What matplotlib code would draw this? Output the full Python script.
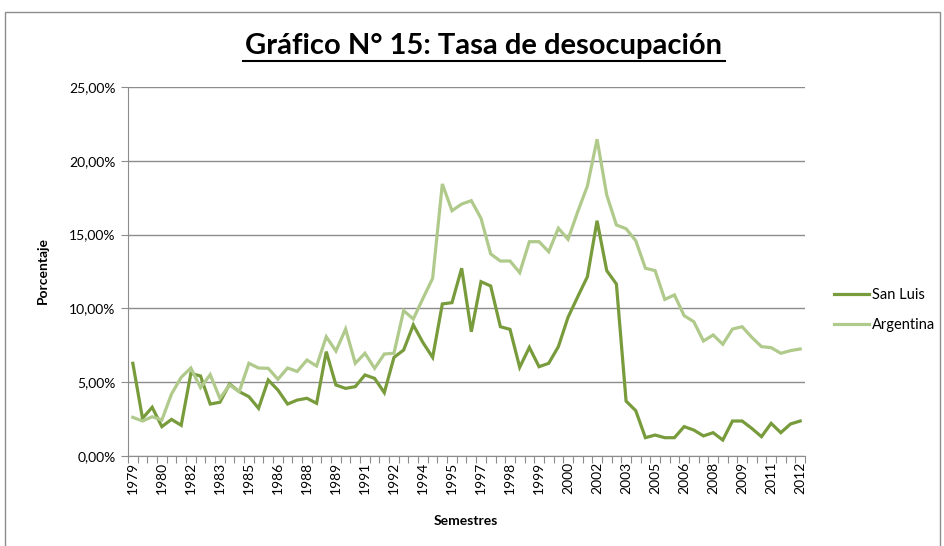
import numpy as np
from matplotlib import pyplot as plt
from matplotlib.patches import Rectangle
from matplotlib.ticker import FuncFormatter

# Data, one value per semester
san_luis = [6.28, 2.55, 3.30, 1.99, 2.48, 2.08, 5.60, 5.42, 3.52, 3.64,
            4.88, 4.36, 4.02, 3.23, 5.15, 4.47, 3.52, 3.79, 3.91, 3.57,
            7.07, 4.81, 4.58, 4.70, 5.49, 5.26, 4.29, 6.68, 7.18, 8.88,
            7.68, 6.68, 10.30, 10.39, 12.72, 8.42, 11.81, 11.52, 8.76, 8.58,
            6.01, 7.36, 6.05, 6.28, 7.41, 9.40, 10.79, 12.15, 15.94, 12.56,
            11.65, 3.72, 3.07, 1.24, 1.42, 1.24, 1.24, 1.99, 1.76, 1.36,
            1.58, 1.08, 2.37, 2.37, 1.87, 1.31, 2.21, 1.58, 2.17, 2.37]
argentina = [2.62, 2.37, 2.66, 2.44, 4.20, 5.33, 5.96, 4.63, 5.51, 3.91,
             4.81, 4.36, 6.28, 5.96, 5.94, 5.20, 5.96, 5.73, 6.50, 6.10,
             8.08, 7.11, 8.60, 6.28, 6.96, 5.94, 6.91, 6.96, 9.85, 9.28,
             10.68, 12.04, 18.43, 16.62, 17.07, 17.30, 16.10, 13.69, 13.21, 13.21,
             12.42, 14.52, 14.52, 13.84, 15.43, 14.68, 16.55, 18.29, 21.46, 17.68,
             15.65, 15.40, 14.59, 12.72, 12.56, 10.61, 10.91, 9.51, 9.10, 7.79,
             8.20, 7.57, 8.60, 8.76, 8.04, 7.41, 7.34, 6.96, 7.14, 7.25]
tick_labels = ['1979', '1980', '1982', '1983', '1985', '1986', '1988', '1989',
               '1991', '1992', '1994', '1995', '1997', '1998', '1999', '2000',
               '2002', '2003', '2005', '2006', '2008', '2009', '2011', '2012']

dark = '#789B3C'
light = '#B0CA8C'
grid_c = '#8C8C8C'
font = ['Lato', 'DejaVu Sans']

plt.rcParams['font.family'] = font

fig = plt.figure(figsize=(9.45, 5.46), dpi=100)
ax = fig.add_axes([128 / 945, 1 - 456 / 546, 677 / 945, 369 / 546])

x = np.arange(len(san_luis))
ax.plot(x, np.array(san_luis) / 100, color=dark, lw=2.3, label='San Luis',
        solid_joinstyle='miter')
ax.plot(x, np.array(argentina) / 100, color=light, lw=2.3, label='Argentina',
        solid_joinstyle='miter')

ax.set_xlim(-0.5, len(x) - 0.5)
ax.set_ylim(0, 0.25)
ax.set_yticks(np.arange(0, 0.2501, 0.05))
ax.yaxis.set_major_formatter(FuncFormatter(lambda v, p: f'{v * 100:.2f}%'.replace('.', ',')))
ax.grid(axis='y', color=grid_c, lw=1)
ax.set_axisbelow(True)

# tick marks between categories, labels every third semester
ax.set_xticks(np.arange(-0.5, len(x), 1))
ax.set_xticklabels([])
ax.set_xticks(np.arange(0, len(x), 3), minor=True)
ax.set_xticklabels(tick_labels, minor=True, rotation=90, fontsize=10)
ax.tick_params(axis='x', which='major', length=5, color=grid_c, direction='out')
ax.tick_params(axis='x', which='minor', length=0, pad=4)
ax.tick_params(axis='y', length=5, color=grid_c, labelsize=10, pad=4)

for s in ['top', 'right']:
    ax.spines[s].set_visible(False)
for s in ['left', 'bottom']:
    ax.spines[s].set_color(grid_c)

fig.text(43 / 945, 1 - 270 / 546, 'Porcentaje', rotation=90, fontsize=10,
         fontweight='bold', ha='center', va='center')
fig.text(466 / 945, 1 - 521 / 546, 'Semestres', fontsize=10,
         fontweight='bold', ha='center', va='center')

fig.text(484 / 945, 1 - 46 / 546, 'Gráfico N° 15: Tasa de desocupación',
         fontsize=21, fontweight='bold', ha='center', va='center')
fig.add_artist(plt.Line2D([243 / 945, 725 / 945], [1 - 61 / 546, 1 - 61 / 546],
                          color='black', lw=1.5))

fig.legend(loc='center left', bbox_to_anchor=(821 / 945, 1 - 310 / 546),
           frameon=False, fontsize=10.5, handlelength=2.4, handletextpad=0.2,
           labelspacing=1.1)

fig.add_artist(Rectangle((5 / 945, -0.01), 935 / 945, 1 - 12 / 546 + 0.01,
                         transform=fig.transFigure, fill=False,
                         edgecolor='#8C8C8C', lw=1))

plt.savefig('out.png', dpi=100)
